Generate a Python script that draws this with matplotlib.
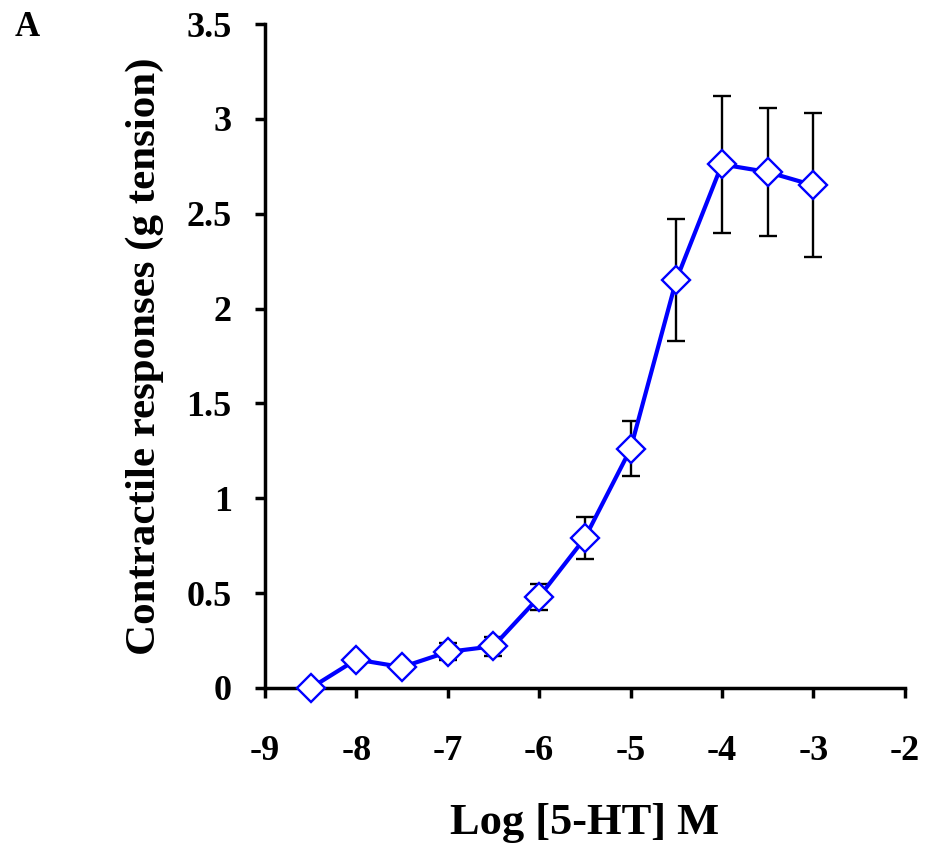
import matplotlib
matplotlib.use("Agg")
import matplotlib.pyplot as plt

# log concentration of 5-HT (M) and mean contractile response (g tension)
log_conc = [-8.5, -8.0, -7.5, -7.0, -6.5, -6.0, -5.5, -5.0, -4.5, -4.0, -3.5, -3.0]
response = [0.00, 0.15, 0.11, 0.19, 0.22, 0.48, 0.79, 1.26, 2.15, 2.76, 2.72, 2.65]
sem      = [0.00, 0.02, 0.02, 0.045, 0.05, 0.07, 0.11, 0.145, 0.32, 0.36, 0.335, 0.38]

x_ticks = [-9, -8, -7, -6, -5, -4, -3, -2]
y_ticks = [0, 0.5, 1, 1.5, 2, 2.5, 3, 3.5]
y_ticklabels = ["0", "0.5", "1", "1.5", "2", "2.5", "3", "3.5"]

plt.rcParams["font.family"] = ["Liberation Serif", "DejaVu Serif"]
plt.rcParams["font.weight"] = "bold"
plt.rcParams["axes.unicode_minus"] = False

fig = plt.figure(figsize=(9.25, 8.46), dpi=100)
ax = fig.add_axes([0.2865, 0.1868, 0.6915, 0.7848])

ax.errorbar(log_conc, response, yerr=sem, fmt="none", ecolor="black",
            elinewidth=1.7, capsize=6.5, capthick=1.7, zorder=2)
ax.plot(log_conc, response, color="#0000ff", lw=3.0, marker="D", ms=14.5,
        mfc="white", mec="#0000ff", mew=1.7, zorder=3, clip_on=False)

ax.set_xlim(-9, -2)
ax.set_ylim(0, 3.5)
ax.set_xticks(x_ticks)
ax.set_yticks(y_ticks)
ax.set_yticklabels(y_ticklabels)

for s in ["top", "right"]:
    ax.spines[s].set_visible(False)
for s in ["left", "bottom"]:
    ax.spines[s].set_linewidth(2.5)

ax.tick_params(direction="out", length=7, width=2.5, labelsize=26)
ax.tick_params(axis="x", pad=27)
ax.tick_params(axis="y", pad=17)
for lab in ax.get_xticklabels() + ax.get_yticklabels():
    lab.set_fontweight("bold")

ax.set_xlabel("Log [5-HT] M", fontsize=32, fontweight="bold", labelpad=25)
ax.set_ylabel("Contractile responses (g tension)", fontsize=31,
              fontweight="bold", labelpad=16)

fig.text(0.016, 0.958, "A", fontsize=25, fontweight="bold")

fig.savefig("out.png", dpi=100)
